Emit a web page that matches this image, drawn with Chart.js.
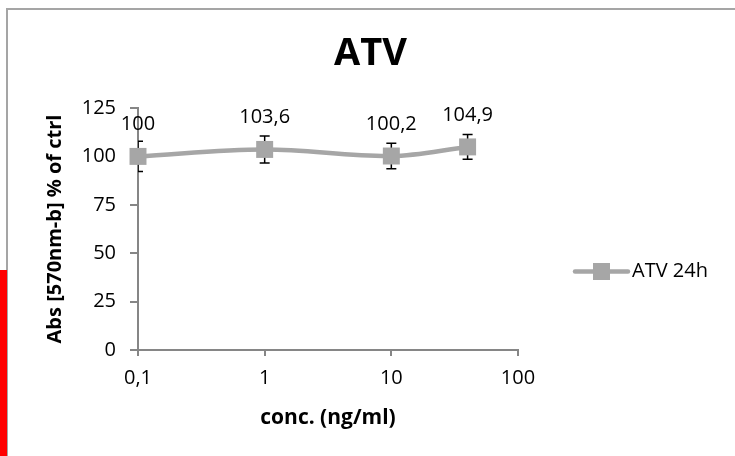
<!DOCTYPE html>
<html>
<head>
<meta charset="utf-8">
<script src="https://cdn.jsdelivr.net/npm/chart.js@4.4.0/dist/chart.umd.min.js"></script>
<style>
  body { margin: 0; background: #fff; }
  #wrap { position: relative; width: 735px; height: 456px; overflow: hidden; }
  #frame { position: absolute; left: 6px; top: 8px; width: 780px; height: 500px;
           border-top: 2px solid #a5a5a5; border-left: 2px solid #a5a5a5; }
  #redBar { position: absolute; left: 0; top: 270px; width: 7px; height: 186px; background: #ff0000; }
  canvas { position: absolute; left: 0; top: 0; }
</style>
</head>
<body>
<div id="wrap">
  <div id="frame"></div>
  <canvas id="atvChart" width="735" height="456"></canvas>
  <div id="redBar"></div>
</div>
<script>
// ATV 24h viability data (% of control)
const concentrations = [0.1, 1, 10, 40];
const absValues = [100, 103.6, 100.2, 104.9];
const absErrors = [7.8, 7.0, 6.6, 6.4];
const xTickValues = [0.1, 1, 10, 100];
const xTickLabels = ['0,1', '1', '10', '100'];
const yTickStep = 25;
const yMax = 125;
const seriesLabel = 'ATV 24h';
const chartTitle = 'ATV';

const FONT = "'Open Sans', sans-serif";
const SERIES_COLOR = '#a6a6a6';
const AXIS_COLOR = '#868686';

Chart.defaults.font.family = FONT;

// error bars, clipped to the plot area like the spreadsheet does
const errorBarPlugin = {
    id: 'errorBars',
    beforeDatasetsDraw(chart) {
        const ctx = chart.ctx;
        const xs = chart.scales.x, ys = chart.scales.y;
        const area = chart.chartArea;
        ctx.save();
        ctx.beginPath();
        ctx.rect(area.left, area.top - 20, area.right - area.left, area.bottom - area.top + 20);
        ctx.clip();
        ctx.strokeStyle = '#000';
        ctx.lineWidth = 1.5;
        concentrations.forEach((c, i) => {
            const x = xs.getPixelForValue(c);
            const yHi = ys.getPixelForValue(absValues[i] + absErrors[i]);
            const yLo = ys.getPixelForValue(absValues[i] - absErrors[i]);
            ctx.beginPath();
            ctx.moveTo(x, yHi); ctx.lineTo(x, yLo);
            ctx.moveTo(x - 5, yHi); ctx.lineTo(x + 5, yHi);
            ctx.moveTo(x - 5, yLo); ctx.lineTo(x + 5, yLo);
            ctx.stroke();
        });
        ctx.restore();
    }
};

// value labels above each point, decimal comma
const valueLabelPlugin = {
    id: 'valueLabels',
    afterDatasetsDraw(chart) {
        const ctx = chart.ctx;
        const xs = chart.scales.x, ys = chart.scales.y;
        ctx.save();
        ctx.font = '20px ' + FONT;
        ctx.fillStyle = '#000';
        ctx.textAlign = 'center';
        ctx.textBaseline = 'middle';
        absValues.forEach((v, i) => {
            const x = xs.getPixelForValue(concentrations[i]);
            const y = ys.getPixelForValue(v);
            ctx.fillText(String(v).replace('.', ','), x, y - 32);
        });
        ctx.restore();
    }
};

// title and a line+marker legend entry on the right
const titleLegendPlugin = {
    id: 'titleLegend',
    afterDraw(chart) {
        const ctx = chart.ctx;
        const area = chart.chartArea;
        const ds = chart.data.datasets[0];
        ctx.save();
        ctx.font = 'bold 38px ' + FONT;
        ctx.fillStyle = '#000';
        ctx.textAlign = 'center';
        ctx.textBaseline = 'middle';
        ctx.fillText(chartTitle, chart.width / 2 + 3, 54);

        const ly = 271.5;
        const lx0 = area.right + 57, lx1 = area.right + 110;
        ctx.strokeStyle = ds.borderColor;
        ctx.lineWidth = ds.borderWidth;
        ctx.lineCap = 'round';
        ctx.beginPath();
        ctx.moveTo(lx0, ly); ctx.lineTo(lx1, ly);
        ctx.stroke();
        ctx.fillStyle = ds.backgroundColor;
        ctx.fillRect((lx0 + lx1) / 2 - 8.5, ly - 8.5, 17, 17);
        ctx.font = '20px ' + FONT;
        ctx.fillStyle = '#000';
        ctx.textAlign = 'left';
        ctx.fillText(ds.label, lx1 + 4, ly);
        ctx.restore();
    }
};

const chartCtx = document.getElementById('atvChart').getContext('2d');
new Chart(chartCtx, {
    type: 'line',
    data: {
        datasets: [{
            label: seriesLabel,
            data: concentrations.map((c, i) => ({ x: c, y: absValues[i] })),
            borderColor: SERIES_COLOR,
            backgroundColor: SERIES_COLOR,
            borderWidth: 4.5,
            pointStyle: 'rect',
            pointRadius: 12,
            pointBorderWidth: 0,
            tension: 0.35,
            clip: false
        }]
    },
    options: {
        responsive: false,
        animation: false,
        layout: { padding: { top: 108, right: 217, left: 0, bottom: 0 } },
        plugins: {
            legend: { display: false },
            title: { display: false },
            tooltip: { enabled: false }
        },
        scales: {
            x: {
                type: 'logarithmic',
                min: xTickValues[0],
                max: xTickValues[xTickValues.length - 1],
                afterBuildTicks: scale => { scale.ticks = xTickValues.map(v => ({ value: v })); },
                afterFit: scale => { scale.height = 106; },
                ticks: {
                    callback: (v, i) => xTickLabels[i],
                    autoSkip: false,
                    maxRotation: 0,
                    color: '#000',
                    font: { size: 20 },
                    padding: 10
                },
                grid: { drawOnChartArea: false, tickLength: 6, color: AXIS_COLOR, lineWidth: 2 },
                border: { color: AXIS_COLOR, width: 2 },
                title: {
                    display: true,
                    text: 'conc. (ng/ml)',
                    color: '#000',
                    font: { size: 21, weight: 'bold' },
                    padding: { top: 0, bottom: 25 }
                }
            },
            y: {
                min: 0,
                max: yMax,
                afterFit: scale => { scale.width = 138; },
                ticks: {
                    stepSize: yTickStep,
                    color: '#000',
                    font: { size: 20 },
                    padding: 14
                },
                grid: { drawOnChartArea: false, tickLength: 8, color: AXIS_COLOR, lineWidth: 2 },
                border: { color: AXIS_COLOR, width: 2 },
                title: {
                    display: true,
                    text: 'Abs [570nm-b] % of ctrl',
                    color: '#000',
                    font: { size: 20, weight: 'bold' },
                    padding: { top: 43, bottom: 0 }
                }
            }
        }
    },
    plugins: [errorBarPlugin, valueLabelPlugin, titleLegendPlugin]
});
</script>
</body>
</html>
